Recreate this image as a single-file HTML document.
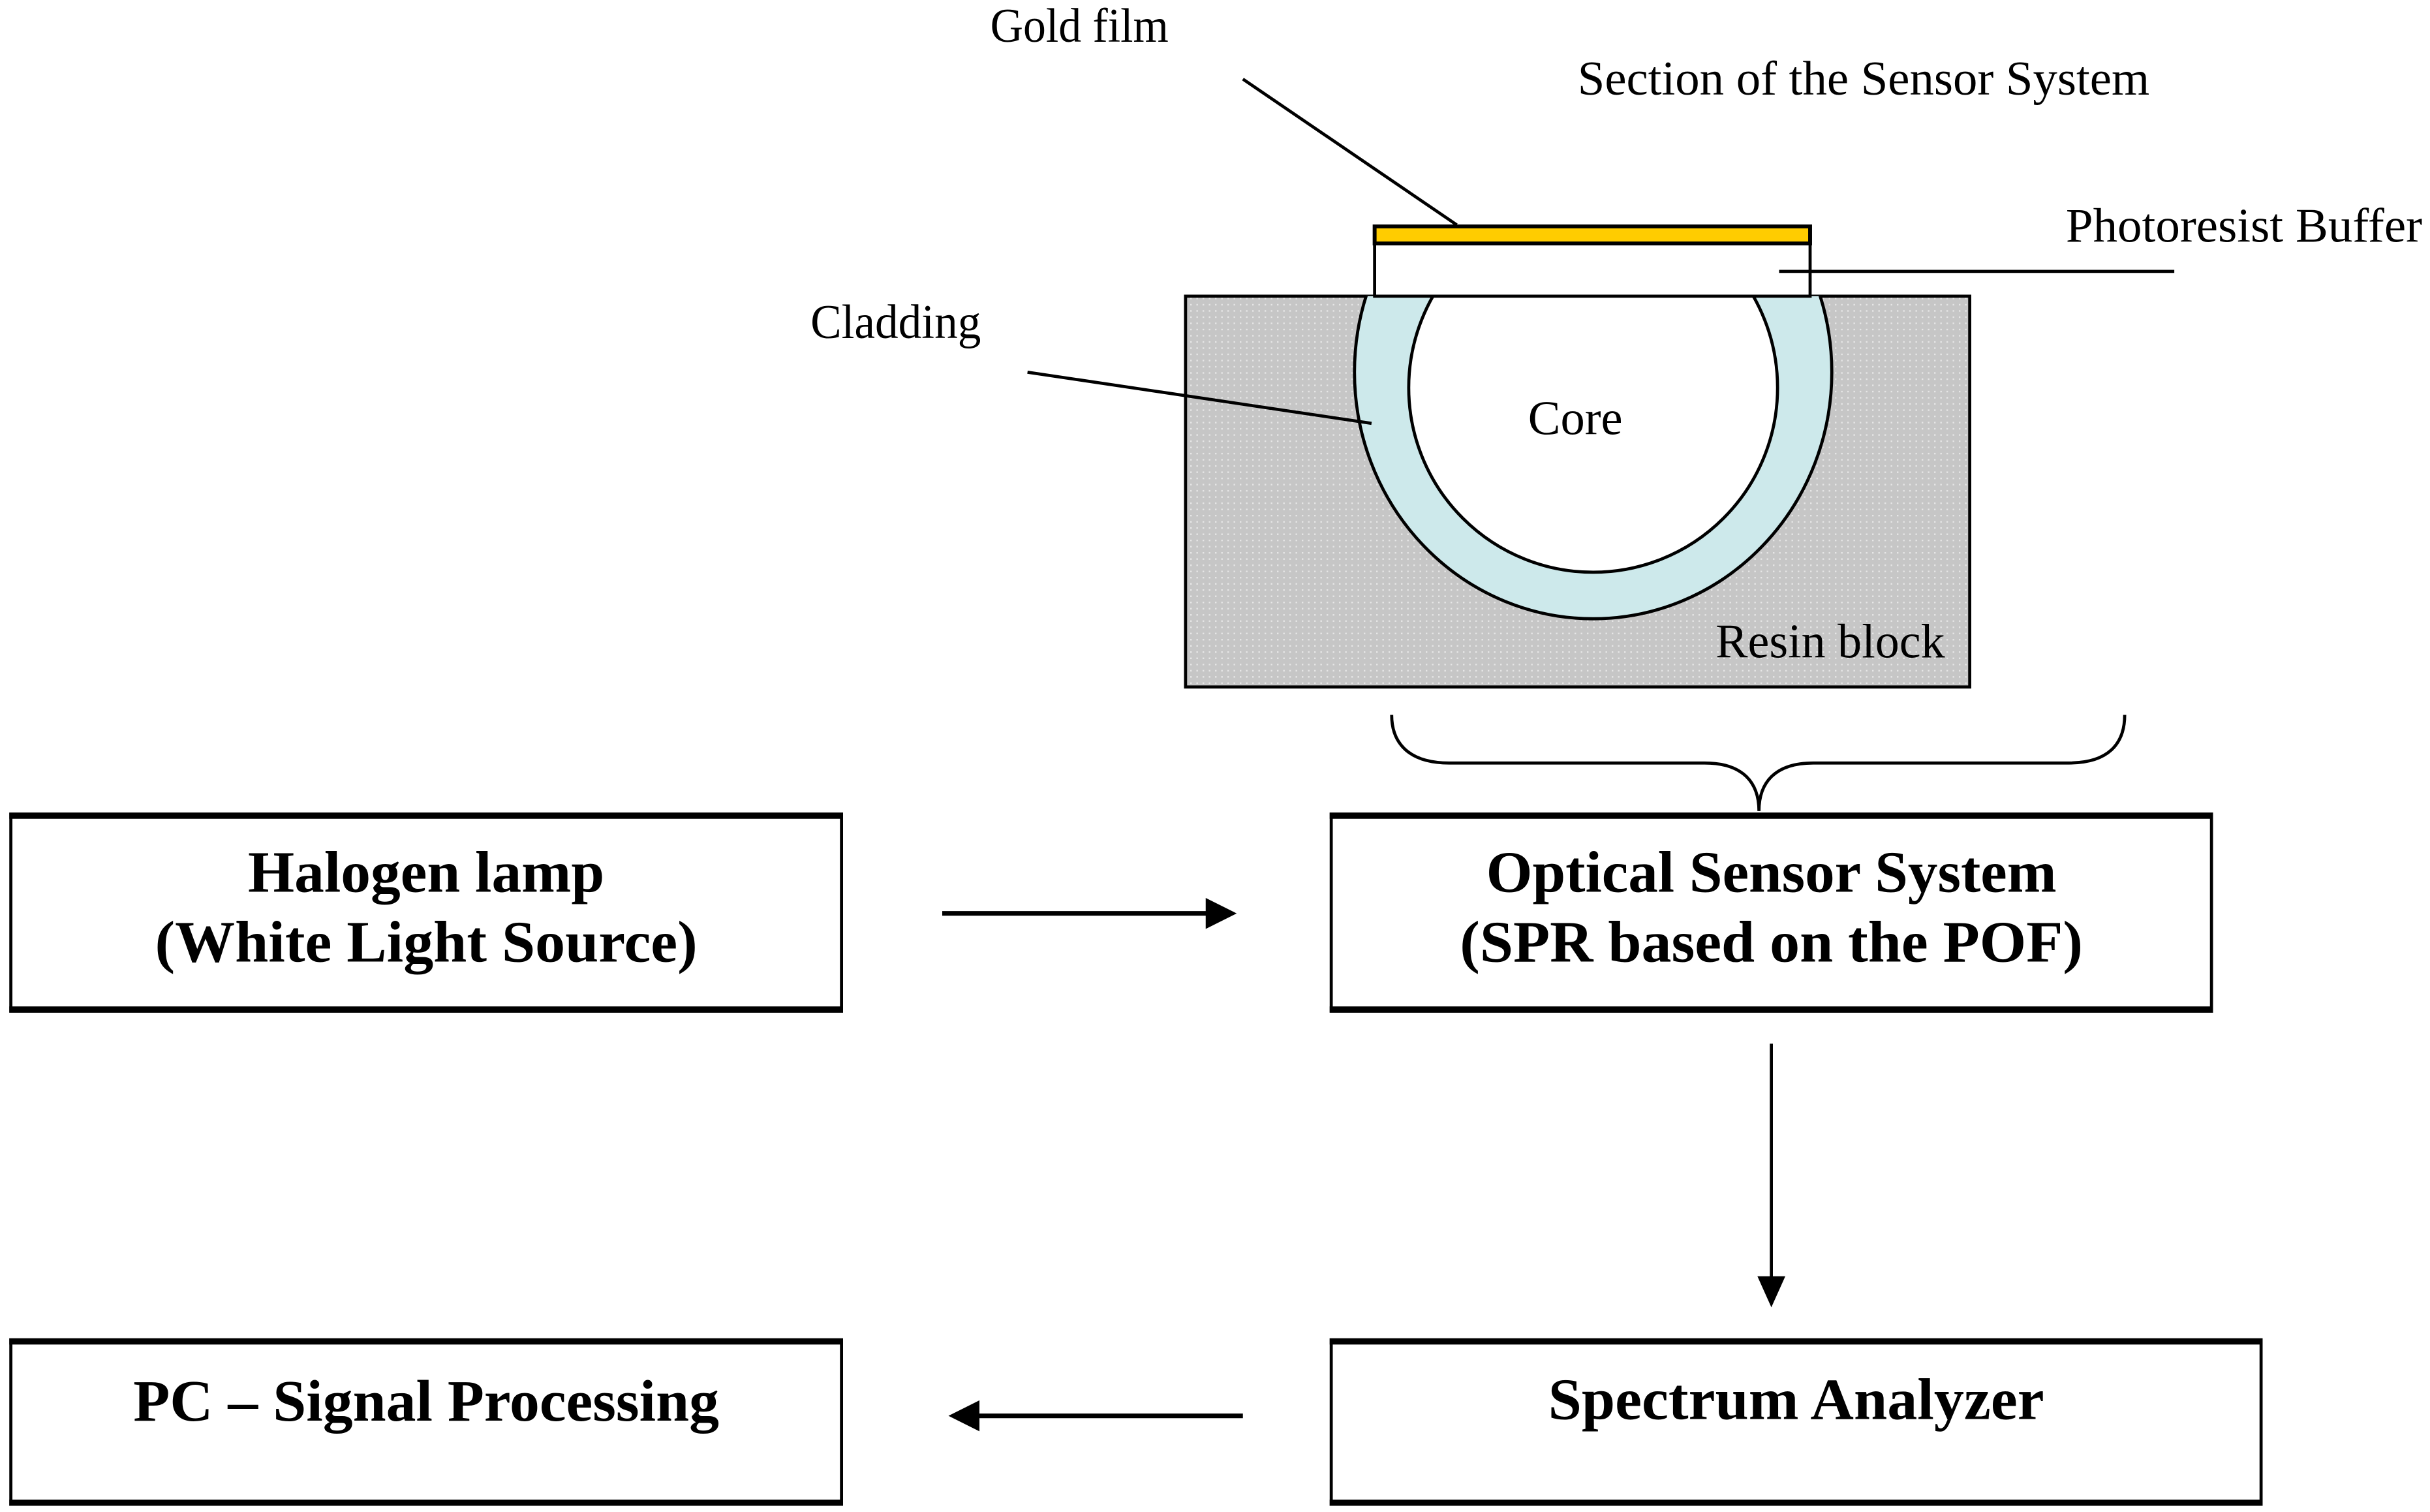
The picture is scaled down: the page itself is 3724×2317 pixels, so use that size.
<!DOCTYPE html>
<html><head><style>
html,body{margin:0;padding:0;background:#fff;}
svg{display:block;}
text{font-family:"Liberation Serif",serif;fill:#000;}
.b{font-weight:bold;font-size:38px;}
.n{font-size:31px;}
</style></head>
<body>
<svg width="3724" height="2317" viewBox="0 0 1568 975" preserveAspectRatio="none" xmlns="http://www.w3.org/2000/svg">
<defs>
<clipPath id="c"><rect x="765" y="191" width="506" height="252"/></clipPath>
<pattern id="dots" width="4" height="4" patternUnits="userSpaceOnUse">
<rect width="4" height="4" fill="#c6c6c6"/><rect width="1" height="1" fill="#e6e6e6"/></pattern>
</defs>
<rect x="765" y="191" width="506" height="252" fill="url(#dots)" stroke="#000" stroke-width="2"/>
<g clip-path="url(#c)">
<ellipse cx="1028" cy="240" rx="154" ry="159" fill="#cde9eb" stroke="#000" stroke-width="2"/>
<ellipse cx="1028" cy="250" rx="119" ry="119" fill="#fff" stroke="#000" stroke-width="2"/>
</g>
<rect x="887" y="157" width="281" height="34" fill="#fff" stroke="#000" stroke-width="2"/>
<rect x="887" y="146" width="281" height="11" fill="#ffcc00" stroke="#000" stroke-width="2.5"/>
<line x1="802" y1="51" x2="940" y2="145" stroke="#000" stroke-width="2"/>
<line x1="1148" y1="175" x2="1403" y2="175" stroke="#000" stroke-width="2"/>
<line x1="663" y1="240" x2="885" y2="273" stroke="#000" stroke-width="2"/>
<text class="n" x="639" y="27" textLength="115" lengthAdjust="spacingAndGlyphs">Gold film</text>
<text class="n" x="1018" y="61" textLength="369" lengthAdjust="spacingAndGlyphs">Section of the Sensor System</text>
<text class="n" x="1333" y="156" textLength="230" lengthAdjust="spacingAndGlyphs">Photoresist Buffer</text>
<text class="n" x="523" y="218" textLength="110" lengthAdjust="spacingAndGlyphs">Cladding</text>
<text class="n" x="986" y="280" textLength="61" lengthAdjust="spacingAndGlyphs">Core</text>
<text class="n" x="1107" y="424" textLength="148" lengthAdjust="spacingAndGlyphs">Resin block</text>
<path d="M898,461 C898,480 910,492 935,492 L1100,492 C1125,492 1135,505 1135,523 C1135,505 1145,492 1170,492 L1335,492 C1360,492 1371,480 1371,461" fill="none" stroke="#000" stroke-width="2"/>
<g fill="#fff" stroke="#000" stroke-width="2">
<rect x="7" y="525" width="536" height="127"/>
<rect x="859" y="525" width="568" height="127"/>
<rect x="7" y="864" width="536" height="106"/>
<rect x="859" y="864" width="600" height="106"/>
</g>
<g stroke="#000" stroke-width="4">
<line x1="6" y1="526" x2="544" y2="526"/><line x1="6" y1="651" x2="544" y2="651"/>
<line x1="858" y1="526" x2="1428" y2="526"/><line x1="858" y1="651" x2="1428" y2="651"/>
<line x1="6" y1="865" x2="544" y2="865"/><line x1="6" y1="969" x2="544" y2="969"/>
<line x1="858" y1="865" x2="1460" y2="865"/><line x1="858" y1="969" x2="1460" y2="969"/>
</g>
<text class="b" x="160" y="575" textLength="230" lengthAdjust="spacingAndGlyphs">Halogen lamp</text>
<text class="b" x="100" y="620" textLength="350" lengthAdjust="spacingAndGlyphs">(White Light Source)</text>
<text class="b" x="959" y="575" textLength="368" lengthAdjust="spacingAndGlyphs">Optical Sensor System</text>
<text class="b" x="942" y="620" textLength="402" lengthAdjust="spacingAndGlyphs">(SPR based on the POF)</text>
<text class="b" x="86" y="916" textLength="378" lengthAdjust="spacingAndGlyphs">PC – Signal Processing</text>
<text class="b" x="999" y="915" textLength="320" lengthAdjust="spacingAndGlyphs">Spectrum Analyzer</text>
<line x1="608" y1="589" x2="782" y2="589" stroke="#000" stroke-width="3"/>
<polygon points="778,579 798,589 778,599" fill="#000"/>
<line x1="1143" y1="673" x2="1143" y2="826" stroke="#000" stroke-width="2"/>
<polygon points="1134,823 1152,823 1143,843" fill="#000"/>
<line x1="802" y1="913" x2="628" y2="913" stroke="#000" stroke-width="3"/>
<polygon points="632,903 612,913 632,923" fill="#000"/>
</svg>
</body></html>
